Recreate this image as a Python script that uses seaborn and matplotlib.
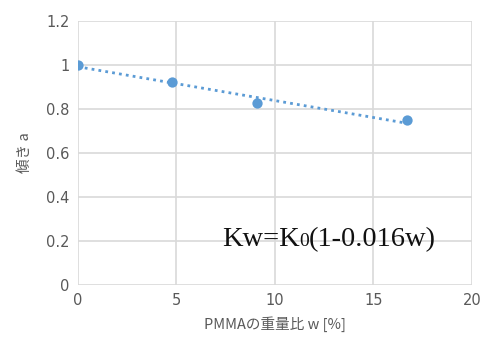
import matplotlib
matplotlib.use("Agg")
import matplotlib.pyplot as plt
import seaborn as sns
import pandas as pd

pmma_w = [0.0, 4.77, 9.07, 16.7]
slope_a = [1.0, 0.925, 0.826, 0.748]
x_ticks = [0, 5, 10, 15, 20]
y_ticks = [0, 0.2, 0.4, 0.6, 0.8, 1.0, 1.2]
y_tick_labels = ["0", "0.2", "0.4", "0.6", "0.8", "1", "1.2"]

df = pd.DataFrame({"w": pmma_w, "a": slope_a})

sns.set_theme(style="white")
plt.rcParams["font.family"] = ["Noto Sans CJK JP", "DejaVu Sans"]

fig = plt.figure(figsize=(4.84, 3.45), dpi=100)
ax = fig.add_axes([0.161, 0.174, 0.814, 0.765])

color = "#5B9BD5"
sns.regplot(data=df, x="w", y="a", ci=None, scatter=False, ax=ax,
            line_kws=dict(color=color, ls=(0, (1, 1.5)), lw=2))
sns.scatterplot(data=df, x="w", y="a", ax=ax, color=color, s=55,
                edgecolor=color, linewidth=0, zorder=5)

ax.set_xlim(0, 20)
ax.set_ylim(0, 1.2)
ax.set_xticks(x_ticks)
ax.set_yticks(y_ticks)
ax.set_yticklabels(y_tick_labels)
ax.grid(True, color="#d9d9d9", lw=1.2)
ax.set_axisbelow(True)
for s in ax.spines.values():
    s.set_visible(False)
ax.tick_params(length=0, labelsize=10.5, colors="#595959", pad=6)
for lbl in ax.get_xticklabels() + ax.get_yticklabels():
    lbl.set_fontfamily("DejaVu Sans")

ax.set_xlabel("PMMAの重量比 w [%]", fontsize=10.5, color="#595959", labelpad=6)
ax.set_ylabel("傾き a", fontsize=10.5, color="#595959", labelpad=10)

fig.canvas.draw()
inv = ax.transData.inverted()
xpos = 7.3
ybase = 0.175
parts = [("Kw=K", 20.5), ("0", 14), ("(1-0.016w)", 20.5)]
for s, fs in parts:
    t = ax.text(xpos, ybase, s, fontsize=fs, color="#111111",
                fontfamily="Liberation Serif", ha="left", va="baseline")
    bb = t.get_window_extent(renderer=fig.canvas.get_renderer())
    xpos = inv.transform((bb.x1, bb.y0))[0]

fig.savefig("out.png", dpi=100)
